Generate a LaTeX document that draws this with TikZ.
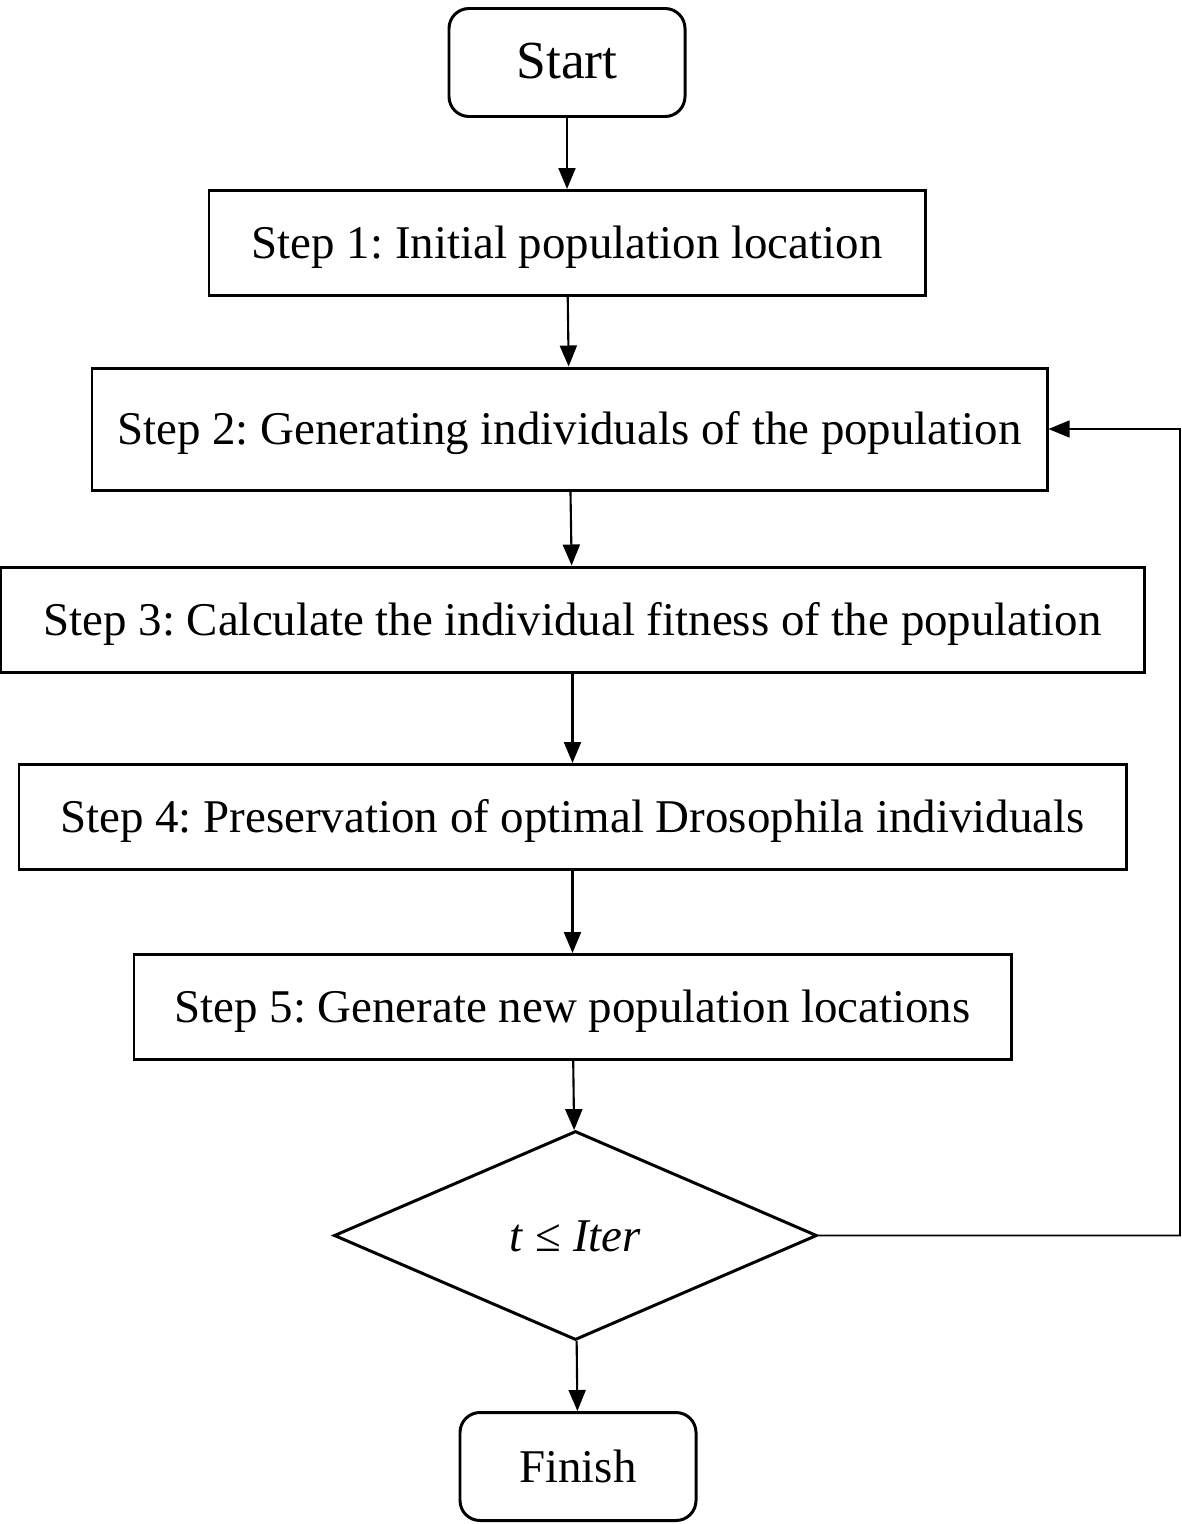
\documentclass[tikz,border=0pt]{standalone}
\usepackage{fontspec}
\setmainfont{Liberation Serif}
\usepackage{tikz}
\usetikzlibrary{arrows.meta, shapes.geometric}
\frenchspacing

\begin{document}
\begin{tikzpicture}[>={Triangle[length=0.42cm,width=0.34cm]},
                    font=\fontsize{26.7}{32}\selectfont]
\tikzstyle{stepbox}=[shape=rectangle, draw=black, line width=1.7pt,
                    inner sep=2pt, minimum height=2.1cm, text height=24pt, text depth=5.9pt]
\tikzstyle{terminal}=[stepbox, rounded corners=0.4cm, minimum width=4.72cm, minimum height=2.16cm]
\tikzstyle{flow}=[->, line width=1.2pt]
  \useasboundingbox (0,0) rectangle (23.64,-30.48);
  \node[terminal, font=\fontsize{30.5}{36}\selectfont] (start) at (11.34,-1.25) {Start};
  \node[stepbox, minimum width=14.32cm] (s1) [below of=start, node distance=3.61cm] {Step 1: Initial population location};
  \node[stepbox, minimum width=19.1cm, minimum height=2.44cm] (s2) [below of=s1, node distance=3.72cm, xshift=0.05cm] {Step 2: Generating individuals of the population};
  \node[stepbox, minimum width=22.86cm] (s3) [below of=s2, node distance=3.81cm, xshift=0.06cm] {Step 3: Calculate the individual fitness of the population};
  \node[stepbox, minimum width=22.14cm] (s4) [below of=s3, node distance=3.95cm] {Step 4: Preservation of optimal Drosophila individuals};
  \node[stepbox, minimum width=17.54cm] (s5) [below of=s4, node distance=3.80cm] {Step 5: Generate new population locations};
  \node[diamond, draw=black, line width=1.7pt, minimum width=9.66cm, minimum height=4.18cm, inner sep=0pt, text height=24pt, text depth=5.9pt] (cond) [below of=s5, node distance=4.57cm, xshift=0.06cm] {\textit{t} ≤ \textit{Iter}};
  \node[terminal] (finish) [below of=cond, node distance=4.62cm, xshift=0.05cm] {Finish};
  \coordinate (back) at (23.6,-24.71);
  \draw[flow] (start) -- (s1);
  \draw[flow] (s1) -- (s2);
  \draw[flow] (s2) -- (s3);
  \draw[flow] (s3) -- (s4);
  \draw[flow] (s4) -- (s5);
  \draw[flow] (s5) -- (cond);
  \draw[flow] (cond) -- (finish);
  \draw[flow, line width=0.9pt] (cond.east) -- (back) |- (s2.east);
\end{tikzpicture}
\end{document}
